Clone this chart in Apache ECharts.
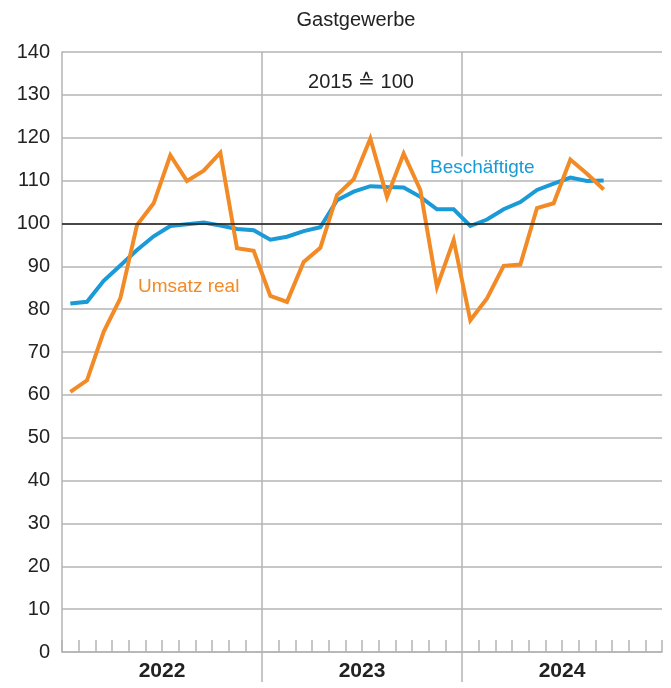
<!DOCTYPE html>
<html>
<head>
<meta charset="utf-8">
<script src="https://cdn.jsdelivr.net/npm/echarts@6/dist/echarts.min.js"></script>
<style>
  html, body { margin: 0; padding: 0; background: #fff; }
  #chart { width: 671px; height: 688px; }
</style>
</head>
<body>
<div id="chart"></div>
<script>
// Monthly index values, 2015 = 100
const years = ['2022', '2023', '2024'];
const months = [];
years.forEach(y => { for (let m = 1; m <= 12; m++) months.push(y + '-' + String(m).padStart(2, '0')); });

const beschaeftigte = [
  81.3, 81.7, 86.6, 90.2, 93.8, 97.0, 99.4, 99.8, 100.2, 99.5, 98.7, 98.4,
  96.2, 96.9, 98.2, 99.1, 105.4, 107.4, 108.7, 108.5, 108.4, 106.2, 103.3, 103.3,
  99.4, 100.9, 103.3, 105.0, 107.8, 109.3, 110.7, 109.9, 110.0
];
const umsatzReal = [
  60.7, 63.4, 74.7, 82.5, 99.6, 104.7, 115.9, 109.9, 112.3, 116.5, 94.2, 93.6,
  83.1, 81.7, 91.0, 94.3, 106.6, 110.3, 119.8, 106.2, 116.3, 107.8, 85.2, 96.1,
  77.4, 82.5, 90.1, 90.4, 103.6, 104.7, 114.9, 111.6, 107.9
];
const yTicks = { min: 0, max: 140, step: 10 };
const baseValue = 100;

const BLUE = '#1a9ad6';
const ORANGE = '#f28a26';
const GRID = '#b4b4b4';
const TEXT = '#222';
const FONT = '"Liberation Sans", Arial, sans-serif';

const GRID_TOP = 52, GRID_BOTTOM = 36, HEIGHT = 688;
const plotHeight = HEIGHT - GRID_TOP - GRID_BOTTOM;
// month positions of the boundaries between years
const yearBounds = years.slice(1).map((_, i) => (i + 1) * 12);
const yearCenters = years.map((_, i) => i * 12 + 6);

const chart = echarts.init(document.getElementById('chart'), null, { renderer: 'canvas' });

const yearAxisBase = {
  type: 'value',
  position: 'bottom',
  min: 0,
  max: months.length,
  axisLine: { show: false },
  splitLine: { show: false }
};

chart.setOption({
  animation: false,
  backgroundColor: '#fff',
  textStyle: { fontFamily: FONT },
  grid: { left: 62, right: 9, top: GRID_TOP, bottom: GRID_BOTTOM, containLabel: false },
  xAxis: [
    {
      type: 'category',
      data: months,
      boundaryGap: true,
      axisLine: { show: true, lineStyle: { color: GRID, width: 1.5 } },
      axisTick: { show: true, interval: 0, inside: true, length: 12, lineStyle: { color: GRID, width: 1.5 } },
      axisLabel: { show: false },
      splitLine: { show: false }
    },
    Object.assign({}, yearAxisBase, {
      // year labels and separators below the axis
      axisTick: { show: true, customValues: yearBounds, inside: false, length: 30, lineStyle: { color: GRID, width: 1.5 } },
      axisLabel: {
        show: true,
        customValues: yearCenters,
        formatter: (v) => years[Math.round((v - 6) / 12)],
        fontFamily: FONT, fontSize: 21, fontWeight: 'bold', color: TEXT, margin: 9
      }
    }),
    Object.assign({}, yearAxisBase, {
      // year separators across the plot
      axisTick: { show: true, customValues: yearBounds, inside: true, length: plotHeight, lineStyle: { color: GRID, width: 1.5 } },
      axisLabel: { show: false }
    })
  ],
  yAxis: {
    type: 'value',
    min: yTicks.min,
    max: yTicks.max,
    interval: yTicks.step,
    axisLine: { show: true, lineStyle: { color: GRID, width: 1.5 } },
    axisTick: { show: false },
    axisLabel: { fontFamily: FONT, fontSize: 20, color: TEXT, margin: 12 },
    splitLine: { show: true, lineStyle: { color: GRID, width: 1.5 } }
  },
  series: [
    {
      type: 'line',
      data: [],
      z: 1,
      silent: true,
      markLine: {
        silent: true,
        symbol: 'none',
        label: { show: false },
        lineStyle: { color: '#1e1e1e', width: 1.6, type: 'solid' },
        data: [{ yAxis: baseValue }]
      }
    },
    {
      name: 'Beschäftigte',
      type: 'line',
      data: beschaeftigte,
      symbol: 'none',
      z: 2,
      lineStyle: { color: BLUE, width: 4, join: 'miter' }
    },
    {
      name: 'Umsatz real',
      type: 'line',
      data: umsatzReal,
      symbol: 'none',
      z: 3,
      lineStyle: { color: ORANGE, width: 4, join: 'miter' }
    }
  ],
  graphic: [
    {
      type: 'text', x: 356, y: 20,
      style: { text: 'Gastgewerbe', fill: TEXT, font: '20px ' + FONT, textAlign: 'center', textVerticalAlign: 'middle' }
    },
    {
      type: 'text', x: 361, y: 82,
      style: { text: '2015 \u2259 100', fill: TEXT, font: '20px ' + FONT, textAlign: 'center', textVerticalAlign: 'middle' }
    },
    {
      type: 'text', x: 427, y: 168, z: 10,
      style: {
        text: 'Beschäftigte', fill: BLUE, font: '19px ' + FONT,
        textVerticalAlign: 'middle', backgroundColor: '#fff', padding: [2, 3, 2, 3]
      }
    },
    {
      type: 'text', x: 138, y: 287, z: 10,
      style: { text: 'Umsatz real', fill: ORANGE, font: '19px ' + FONT, textVerticalAlign: 'middle' }
    }
  ]
});
</script>
</body>
</html>
